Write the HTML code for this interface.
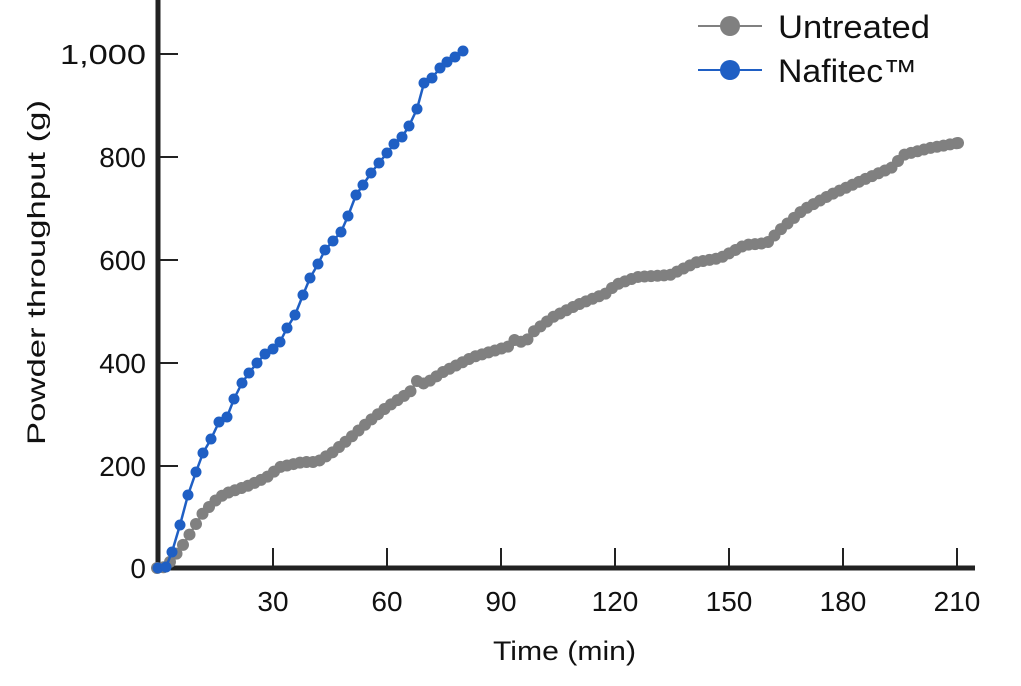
<!DOCTYPE html><html><head><style>body{margin:0;background:#fff}svg text{font-family:"Liberation Sans",sans-serif;fill:#111}</style></head><body>
<svg id="s" width="1021" height="681" viewBox="0 0 1021 681" xmlns="http://www.w3.org/2000/svg">
<line x1="158" y1="0" x2="158" y2="570" stroke="#222" stroke-width="5"/>
<line x1="156" y1="568" x2="975" y2="568" stroke="#222" stroke-width="5"/>
<g stroke="#222" stroke-width="2">
<line x1="273" y1="548" x2="273" y2="568"/><line x1="387" y1="548" x2="387" y2="568"/><line x1="501" y1="548" x2="501" y2="568"/><line x1="615" y1="548" x2="615" y2="568"/><line x1="729" y1="548" x2="729" y2="568"/><line x1="843" y1="548" x2="843" y2="568"/><line x1="957" y1="548" x2="957" y2="568"/>
<line x1="158" y1="54" x2="178" y2="54"/><line x1="158" y1="157" x2="178" y2="157"/><line x1="158" y1="260" x2="178" y2="260"/><line x1="158" y1="363" x2="178" y2="363"/><line x1="158" y1="466" x2="178" y2="466"/></g>
<g font-size="28" text-anchor="middle">
<text x="273" y="611">30</text><text x="387" y="611">60</text><text x="501" y="611">90</text><text x="615" y="611">120</text><text x="729" y="611">150</text><text x="843" y="611">180</text><text x="957" y="611">210</text></g>
<g font-size="28" text-anchor="end">
<text x="146" y="578">0</text><text x="146" y="476">200</text><text x="146" y="373">400</text><text x="146" y="270">600</text><text x="146" y="167">800</text><text x="146" y="64" textLength="86" lengthAdjust="spacingAndGlyphs">1,000</text></g>
<text x="493" y="660" font-size="27" textLength="143" lengthAdjust="spacingAndGlyphs">Time (min)</text>
<text transform="translate(45,445) rotate(-90)" font-size="25" textLength="345" lengthAdjust="spacingAndGlyphs">Powder throughput (g)</text>
<line x1="698" y1="26" x2="762" y2="26" stroke="#808080" stroke-width="2"/><circle cx="730" cy="26" r="10" fill="#808080"/>
<line x1="698" y1="70" x2="762" y2="70" stroke="#1f5fc4" stroke-width="2"/><circle cx="730" cy="70" r="10" fill="#1f5fc4"/>
<text x="778" y="38" font-size="32" textLength="152" lengthAdjust="spacingAndGlyphs">Untreated</text><text x="778" y="82" font-size="32" textLength="139" lengthAdjust="spacingAndGlyphs">Nafitec™</text>
<g id="g"></g>
</svg>
<script>
var G=[[157,568],[166,567],[173,558],[181,548],[188,537],[196,524],[203,513],[211,505],[218,498],[227,493],[250,485],[267,477],[280,467],[303,462],[317,462],[333,452],[350,438],[367,423],[387,407],[410,392],[417,381],[425,384],[443,372],[473,357],[510,346],[516,338],[524,344],[533,332],[553,317],[577,305],[607,293],[615,285],[637,277],[670,275],[697,262],[720,258],[745,245],[767,243],[780,230],[803,210],[830,195],[863,180],[893,167],[903,155],[930,148],[958,143]];
var B=[[158,568],[166,567],[172,552],[180,525],[188,495],[196,472],[203,453],[211,439],[219,422],[227,417],[234,399],[242,383],[249,373],[257,363],[265,354],[273,349],[280,342],[287,328],[295,315],[303,295],[310,278],[318,264],[325,250],[333,241],[341,232],[348,216],[356,195],[363,185],[371,173],[379,163],[387,153],[394,144],[402,137],[409,126],[417,109],[424,83],[432,78],[440,68],[447,62],[455,57],[463,51]];
function interp(P,x){for(var i=1;i<P.length;i++){if(x<=P[i][0]){var a=P[i-1],b=P[i];return a[1]+(b[1]-a[1])*(x-a[0])/(b[0]-a[0]);}}return P[P.length-1][1];}
var ns='http://www.w3.org/2000/svg',g=document.getElementById('g');
function draw(pts,col,r){
var pl=document.createElementNS(ns,'polyline');pl.setAttribute('points',pts.map(p=>p.join(',')).join(' '));pl.setAttribute('fill','none');pl.setAttribute('stroke',col);pl.setAttribute('stroke-width','2.5');g.appendChild(pl);
pts.forEach(function(p){var c=document.createElementNS(ns,'circle');c.setAttribute('cx',p[0]);c.setAttribute('cy',p[1]);c.setAttribute('r',r);c.setAttribute('fill',col);g.appendChild(c);});}
var gp=[];for(var x=157;x<=958.1;x+=6.5)gp.push([x,interp(G,x)]);gp.push([958,143]);
draw(gp,'#808080',6);draw(B,'#1f5fc4',5.5);
</script></body></html>
